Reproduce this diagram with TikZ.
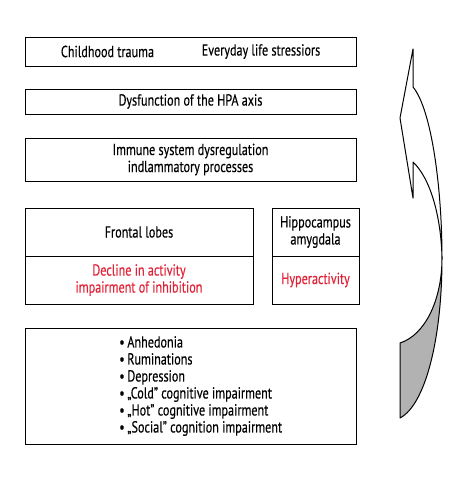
\documentclass[tikz,border=0pt]{standalone}
\usepackage{fontspec}
\setmainfont{PT Sans}[FakeStretch=0.76, FakeBold=0.3]
\usetikzlibrary{positioning}
\definecolor{hparod}{RGB}{226,35,55}
\definecolor{bagside}{RGB}{178,178,178}
\tikzset{
    kasse/.style={rectangle, draw=black, line width=0.9pt, outer sep=0pt,
                    inner sep=0pt, minimum width=331pt, align=center},
    rodtekst/.style={text=hparod},
    pil/.style={draw=black, line width=1pt, line join=round}}

\begin{document}
\begin{tikzpicture}[x=1pt, y=-1pt, font=\fontsize{16}{17}\selectfont]
            \useasboundingbox (0,0) rectangle (474,482);
            \node[kasse, minimum height=29pt] at (190.5,51.5)
                (stress) {};
            \node at ([xshift=-83pt]stress.center)
                (barndom) {Childhood trauma};
            \node at ([xshift=70.5pt]stress.center)
                (hverdag) {Everyday life stressiors};
            \node[kasse, minimum height=25pt, below=23pt of stress]
                (hpa) {Dysfunction of the HPA axis};
            \node[kasse, minimum height=43pt, below=24pt of hpa]
                (immun) {Immune system dysregulation\\
                         indlammatory processes};

            \node[kasse, minimum width=228pt, minimum height=48pt,
                  below right=27pt and 0pt of immun.south west]
                (frontal) {Frontal lobes};
            \node[kasse, rodtekst, minimum width=228pt, minimum height=48pt,
                  below=0pt of frontal]
                (aktivitet) {Decline in activity\\
                             impairment of inhibition};
            \node[kasse, minimum width=87pt, minimum height=48pt,
                  right=19pt of frontal]
                (hippo) {Hippocampus\\amygdala};
            \node[kasse, rodtekst, minimum width=87pt, minimum height=48pt,
                  below=0pt of hippo]
                (hyper) {Hyperactivity};

            \node[kasse, minimum height=116pt,
                  below right=24pt and 0pt of aktivitet.south west]
                (symptomer) {};
            \node[anchor=west, align=left, inner sep=0pt]
                at ([xshift=94pt]symptomer.west)
                (liste) {•\,Anhedonia\\
                         •\,Ruminations\\
                         •\,Depression\\
                         •\,„Cold” cognitive impairment\\
                         •\,„Hot” cognitive impairment\\
                         •\,„Social” cognition impairment};

            \path[pil, fill=white] (413,49) -- (413,87)
                .. controls (432,110) and (442,190) .. (442,258)
                .. controls (441,215) and (430,178) .. (413,162)
                -- (413,198) -- (400,118) -- cycle;
            \path[pil, fill=bagside] (400,343)
                .. controls (425,335) and (442,300) .. (442,258)
                .. controls (442,340) and (425,405) .. (400,418)
                -- cycle;
        \end{tikzpicture}
\end{document}
